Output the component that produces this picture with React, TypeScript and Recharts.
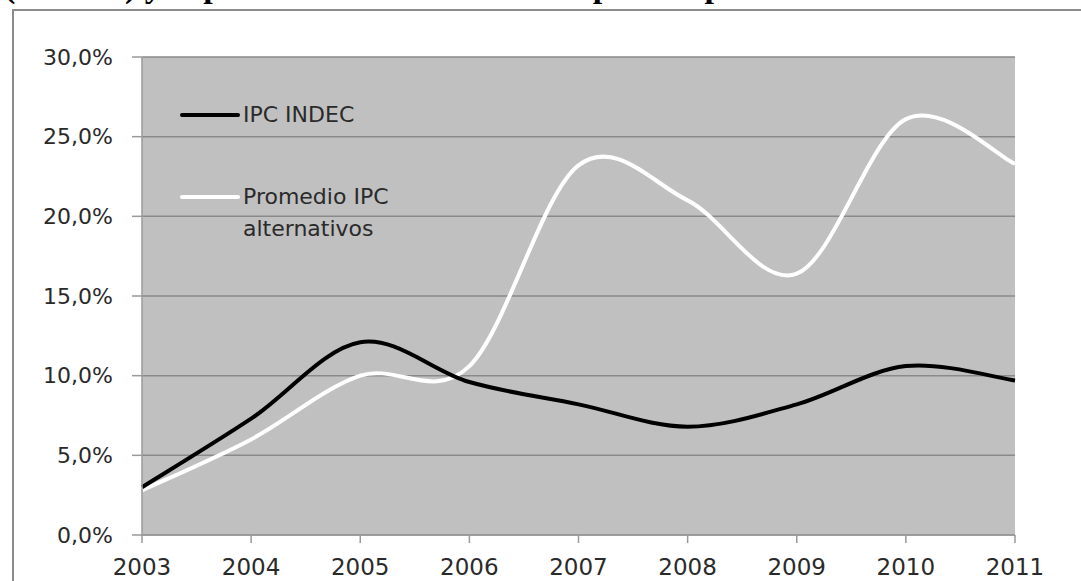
import React from "react";
import {
    LineChart,
    Line,
    XAxis,
    YAxis,
    CartesianGrid,
    Legend
} from "recharts";

// data (inflation, %)
const years = [2003, 2004, 2005, 2006, 2007, 2008, 2009, 2010, 2011];
const ipcIndec = [3.0, 7.3, 12.1, 9.6, 8.2, 6.8, 8.2, 10.6, 9.7];
const ipcAlternativos = [2.8, 6.0, 10.0, 10.6, 23.2, 21.0, 16.4, 26.1, 23.3];
const yTicks = [0, 5, 10, 15, 20, 25, 30];

const seriesNames = {
    indec: "IPC INDEC",
    alt: ["Promedio IPC", "alternativos"]
};

const data = years.map((year, i) => ({
    year,
    indec: ipcIndec[i],
    alt: ipcAlternativos[i]
}));

const FONT = "'DejaVu Sans', sans-serif";
const TEXT = "#2a2a2a";

// Excel-like smoothing (uniform Catmull-Rom as cubic beziers)
function excelSmooth(context: any) {
    let pts: number[][] = [];
    return {
        areaStart() {},
        areaEnd() {},
        lineStart() {
            pts = [];
        },
        point(x: number, y: number) {
            pts.push([+x, +y]);
        },
        lineEnd() {
            const n = pts.length;
            if (!n) return;
            context.moveTo(pts[0][0], pts[0][1]);
            for (let i = 0; i < n - 1; i++) {
                const p0 = pts[Math.max(i - 1, 0)];
                const p1 = pts[i];
                const p2 = pts[i + 1];
                const p3 = pts[Math.min(i + 2, n - 1)];
                context.bezierCurveTo(
                    p1[0] + (p2[0] - p0[0]) / 6,
                    p1[1] + (p2[1] - p0[1]) / 6,
                    p2[0] - (p3[0] - p1[0]) / 6,
                    p2[1] - (p3[1] - p1[1]) / 6,
                    p2[0],
                    p2[1]
                );
            }
        }
    };
}

const fmtPct = (v: number) => v.toFixed(1).replace(".", ",") + "%";

function renderLegend() {
    const row = (color: string, lines: string[], top: number) => (
        <div style={{ position: "absolute", left: 0, top, display: "flex" }}>
            <div
                style={{
                    width: 60,
                    height: 4,
                    background: color,
                    borderRadius: 2,
                    marginTop: 14
                }}
            />
            <div style={{ marginLeft: 3, fontSize: 22, lineHeight: "32px", color: TEXT, fontFamily: FONT, whiteSpace: "nowrap" }}>
                {lines.map((l) => (
                    <div key={l}>{l}</div>
                ))}
            </div>
        </div>
    );
    return (
        <div style={{ position: "relative", width: 220, height: 150 }}>
            {row("#000000", [seriesNames.indec], 0)}
            {row("#ffffff", seriesNames.alt, 82)}
        </div>
    );
}

export default function App() {
    return (
        <div
            style={{
                position: "absolute",
                left: 0,
                top: 0,
                width: 1081,
                height: 581,
                overflow: "hidden",
                background: "#ffffff"
            }}
        >
            {/* title, cut by the top edge */}
            <div
                style={{
                    position: "absolute",
                    left: 4,
                    top: -33,
                    fontFamily: "'Liberation Serif', serif",
                    fontWeight: "bold",
                    fontSize: 34,
                    whiteSpace: "nowrap",
                    color: "#000"
                }}
            >
                (INDEC) y el promedio de los índices de precios provinciales
            </div>

            {/* frame */}
            <div
                style={{
                    position: "absolute",
                    left: 12,
                    top: 9,
                    width: 1100,
                    height: 600,
                    borderLeft: "2px solid #8c8c8c",
                    borderTop: "2px solid #8c8c8c"
                }}
            />

            <div style={{ position: "absolute", left: 0, top: 0 }}>
                <LineChart
                    width={1081}
                    height={581}
                    data={data}
                    margin={{ top: 57, right: 66, bottom: 0, left: 0 }}
                >
                    <CartesianGrid
                        vertical={false}
                        stroke="#8a8a8a"
                        strokeWidth={1.5}
                        fill="#c0c0c0"
                        fillOpacity={1}
                    />

                    <XAxis
                        dataKey="year"
                        type="number"
                        domain={[2003, 2011]}
                        ticks={years}
                        interval={0}
                        height={46}
                        stroke="#9a9a9a"
                        strokeWidth={1.5}
                        tickSize={8}
                        tickMargin={16}
                        tick={{ fontSize: 23, fill: TEXT, fontFamily: FONT }}
                    />

                    <YAxis
                        type="number"
                        domain={[0, 30]}
                        ticks={yTicks}
                        width={142}
                        stroke="#9a9a9a"
                        strokeWidth={1.5}
                        tickSize={10}
                        tickMargin={19}
                        tickFormatter={fmtPct}
                        tick={{ fontSize: 22, fill: TEXT, fontFamily: FONT }}
                    />

                    <Legend
                        content={renderLegend}
                        layout="vertical"
                        verticalAlign="middle"
                        align="center"
                        wrapperStyle={{ left: 180, top: 99, width: 220 }}
                    />

                    {/* Promedio IPC alternativos */}
                    <Line
                        type={excelSmooth as any}
                        dataKey="alt"
                        stroke="#ffffff"
                        strokeWidth={4}
                        dot={false}
                        isAnimationActive={false}
                    />

                    {/* IPC INDEC */}
                    <Line
                        type={excelSmooth as any}
                        dataKey="indec"
                        stroke="#000000"
                        strokeWidth={4}
                        dot={false}
                        isAnimationActive={false}
                    />
                </LineChart>
            </div>
        </div>
    );
}
